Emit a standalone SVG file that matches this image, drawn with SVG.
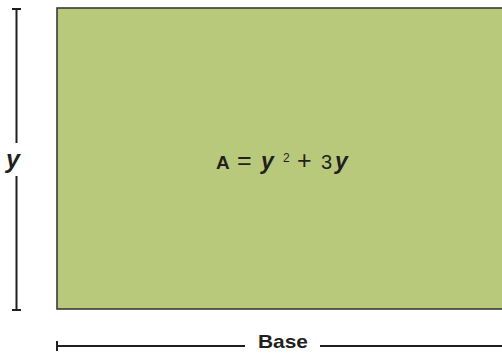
<svg xmlns="http://www.w3.org/2000/svg" width="502" height="353" viewBox="0 0 502 353">
<style>
.dim{stroke:#231f20;stroke-width:2;fill:none}
.lbl{font-family:"Liberation Sans",Arial,sans-serif;fill:#231f20}
.v{font-style:italic;font-weight:bold}
</style>
<rect width="502" height="353" fill="#ffffff"/>
<g id="rect">
<rect x="57" y="8" width="447" height="301" fill="#b9c97c" stroke="#3a3a3a" stroke-width="1.6"/>
<g id="formula">
<text class="lbl" x="216" y="169" font-size="19" font-weight="bold">A</text>
<text class="lbl" x="237" y="169" font-size="25">=</text>
<text class="lbl v" x="261" y="169" font-size="23">y</text>
<text class="lbl" x="283" y="162" font-size="12">2</text>
<text class="lbl" x="297" y="169" font-size="25">+</text>
<text class="lbl" x="321" y="169" font-size="20">3</text>
<text class="lbl v" x="335" y="169" font-size="23">y</text>
</g>
</g>
<g id="connectors">
<path class="dim" d="M16.5 9V143M16.5 176V310M12 9H21M12 310H21"/>
<path class="dim" d="M57 346H245M320 346H502M57 341V351"/>
</g>
<g id="labels">
<text class="lbl v" x="6" y="168" font-size="25">y</text>
<text class="lbl" x="258" y="348" font-size="19" font-weight="bold" textLength="50" lengthAdjust="spacingAndGlyphs">Base</text>
</g>
</svg>
